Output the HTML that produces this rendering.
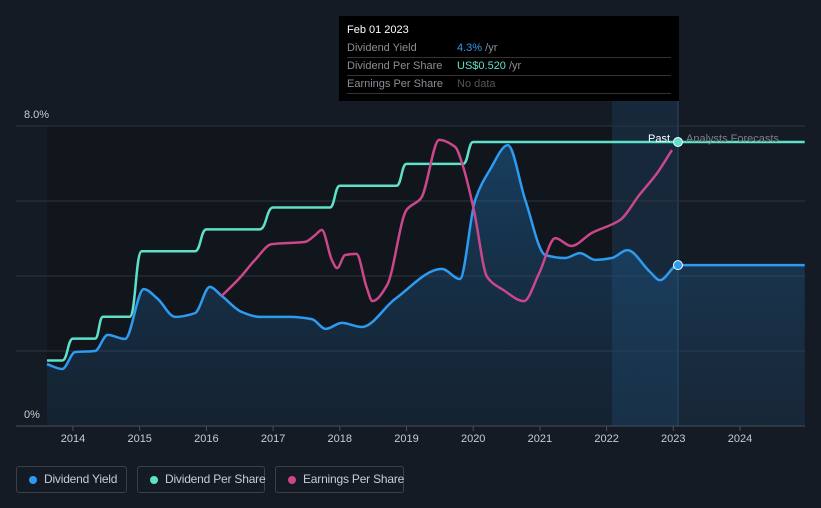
<!DOCTYPE html>
<html><head><meta charset="utf-8"><style>
body{margin:0;background:#151b25;font-family:"Liberation Sans",sans-serif;}
#wrap{position:relative;width:821px;height:508px;overflow:hidden;}
.leg{position:absolute;top:466px;height:27px;border:1px solid #39404c;border-radius:3px;color:#c8ccd2;font-size:12px;line-height:25px;box-sizing:border-box;padding-left:27px;white-space:nowrap;letter-spacing:-0.2px;}
.leg i{position:absolute;left:12px;top:9px;width:8px;height:8px;border-radius:50%;}
#tip{position:absolute;left:339px;top:16px;width:340px;height:85px;background:#000;color:#8a8f96;font-size:11px;}
#tip .r{position:absolute;left:8px;width:324px;border-bottom:1px solid #333;height:17px;line-height:17px;}
</style></head><body><div id="wrap">
<svg id="svg" width="821" height="508" style="position:absolute;left:0;top:0"></svg>
<div id="tip">
<div style="position:absolute;left:8px;top:8px;color:#fff;font-size:11px">Feb 01 2023</div>
<div class="r" style="top:24px">Dividend Yield<span style="position:absolute;left:110px;color:#2d9bf0">4.3% <span style="color:#8a8f96">/yr</span></span></div>
<div class="r" style="top:42px">Dividend Per Share<span style="position:absolute;left:110px;color:#5fe0c8">US$0.520 <span style="color:#8a8f96">/yr</span></span></div>
<div class="r" style="top:60px">Earnings Per Share<span style="position:absolute;left:110px;color:#555">No data</span></div>
</div>
<div class="leg" style="left:16px;width:111px"><i style="background:#2d9bf0"></i>Dividend Yield</div>
<div class="leg" style="left:137px;width:128px"><i style="background:#5fe0c8"></i>Dividend Per Share</div>
<div class="leg" style="left:275px;width:129px"><i style="background:#c9478a"></i>Earnings Per Share</div>
</div>
<script>
const yieldYears=[2013.61,2013.84,2014.03,2014.33,2014.52,2014.78,2015.06,2015.27,2015.53,2015.83,2016.05,2016.23,2016.53,2016.80,2017.25,2017.58,2017.79,2018.03,2018.33,2018.83,2019.53,2019.80,2020.03,2020.25,2020.52,2020.78,2021.08,2021.38,2021.60,2021.83,2022.08,2022.31,2022.65,2022.80,2023.07,2024.97];
const yieldVals=[1.65,1.52,1.97,2.0,2.43,2.32,3.65,3.39,2.91,3.01,3.71,3.47,3.04,2.91,2.91,2.85,2.59,2.75,2.64,3.39,4.19,3.92,6.03,6.83,7.49,6.03,4.56,4.48,4.61,4.43,4.48,4.69,4.11,3.89,4.29,4.29];
const dpsYears=[2013.61,2013.84,2014.0,2014.33,2014.45,2014.62,2014.85,2015.03,2015.83,2016.0,2016.8,2017.0,2017.85,2018.0,2018.85,2019.0,2019.85,2020.0,2024.97];
const dpsVals=[0.12,0.12,0.16,0.16,0.20,0.20,0.20,0.32,0.32,0.36,0.36,0.40,0.40,0.44,0.44,0.48,0.48,0.52,0.52];
const epsYears=[2016.23,2016.5,2016.73,2016.98,2017.48,2017.63,2017.73,2017.88,2017.96,2018.08,2018.25,2018.4,2018.49,2018.71,2019.0,2019.22,2019.49,2019.73,2019.85,2020.01,2020.21,2020.45,2020.76,2020.99,2021.23,2021.47,2021.78,2022.2,2022.49,2022.76,2022.98];
const epsVals=[3.47,3.95,4.43,4.85,4.91,5.09,5.23,4.43,4.21,4.56,4.59,3.71,3.33,3.76,5.76,6.08,7.63,7.44,6.91,5.76,3.97,3.63,3.33,4.08,5.01,4.8,5.15,5.49,6.16,6.75,7.36];
const xTicks=[2014,2015,2016,2017,2018,2019,2020,2021,2022,2023,2024];
const yTicks=[0,2,4,6,8];
const X=y=>73+(y-2014)*66.7, Y=v=>426-v*37.5, YD=v=>426-v/0.52*284;
const S=document.getElementById('svg'),NS='http://www.w3.org/2000/svg';
function mk(t,a,p){const e=document.createElementNS(NS,t);for(const k in a)e.setAttribute(k,a[k]);(p||S).appendChild(e);return e;}
function smooth(p){const n=p.length,m=[],d=[];for(let i=0;i<n-1;i++)d.push((p[i+1][1]-p[i][1])/(p[i+1][0]-p[i][0]));
for(let i=0;i<n;i++){if(i==0)m.push(d[0]);else if(i==n-1)m.push(d[n-2]);else m.push(d[i-1]*d[i]<=0?0:2/(1/d[i-1]+1/d[i]));}
let s='M'+p[0][0]+','+p[0][1];for(let i=0;i<n-1;i++){const h=(p[i+1][0]-p[i][0])/3;s+=' C'+(p[i][0]+h)+','+(p[i][1]+m[i]*h)+' '+(p[i+1][0]-h)+','+(p[i+1][1]-m[i+1]*h)+' '+p[i+1][0]+','+p[i+1][1];}return s;}
const defs=mk('defs',{});
const g=mk('linearGradient',{id:'ga',x1:0,y1:0,x2:0,y2:1},defs);
mk('stop',{offset:0,'stop-color':'#1f6fb0','stop-opacity':0.45},g);mk('stop',{offset:1,'stop-color':'#1f4a70','stop-opacity':0.25},g);
let e;
e=mk('rect',{x:47,y:126,width:565,height:300,fill:'#11151c'});
e=mk('rect',{x:612,y:100,width:66,height:326,fill:'#17334d',opacity:0.55});
mk('line',{x1:678,y1:100,x2:678,y2:426,stroke:'#2a4a6a','stroke-width':1});
yTicks.forEach(v=>{const l=mk('line',{x1:16,x2:805,y1:Y(v),y2:Y(v),stroke:v==0?'#4a505a':'#2e343e','stroke-width':1});});
[[0,'0%'],[8,'8.0%']].forEach(([v,s])=>{const t=mk('text',{x:24,y:Y(v)-8,fill:'#c8ccd2','font-size':11});t.textContent=s;});
xTicks.forEach(v=>{mk('line',{x1:X(v),x2:X(v),y1:426,y2:431,stroke:'#4a505a'});const t=mk('text',{x:X(v),y:442,fill:'#c8ccd2','font-size':11,'text-anchor':'middle'});t.textContent=v;});
const yp=yieldYears.map((y,i)=>[X(y),Y(yieldVals[i])]);
const ld=smooth(yp);
e=mk('path',{d:ld+' L'+yp[yp.length-1][0]+',426 L'+yp[0][0]+',426 Z',fill:'url(#ga)'});
e=mk('path',{d:ld,fill:'none',stroke:'#2d9bf0','stroke-width':2.5});
const dp=dpsYears.map((y,i)=>[X(y),YD(dpsVals[i])]);
let dd='M'+dp[0][0]+','+dp[0][1];for(let i=1;i<dp.length;i++){const a=dp[i-1],b=dp[i];if(a[1]==b[1])dd+=' L'+b[0]+','+b[1];else{const m=(a[0]+b[0])/2;dd+=' C'+m+','+a[1]+' '+m+','+b[1]+' '+b[0]+','+b[1];}}
e=mk('path',{d:dd,fill:'none',stroke:'#5fe0c8','stroke-width':2.5});
e=mk('path',{d:smooth(epsYears.map((y,i)=>[X(y),Y(epsVals[i])])),fill:'none',stroke:'#c9478a','stroke-width':2.5});
e=mk('circle',{cx:X(2023.07),cy:YD(0.52),r:4.5,fill:'#5fe0c8',stroke:'#fff','stroke-width':1});
e=mk('circle',{cx:X(2023.07),cy:Y(4.29),r:4.5,fill:'#2d9bf0',stroke:'#fff','stroke-width':1});
e=mk('text',{x:670,y:142,fill:'#fff','font-size':11,'text-anchor':'end'});e.textContent='Past';
e=mk('text',{x:686,y:142,fill:'#7b8088','font-size':11});e.textContent='Analysts Forecasts';
</script></body></html>
